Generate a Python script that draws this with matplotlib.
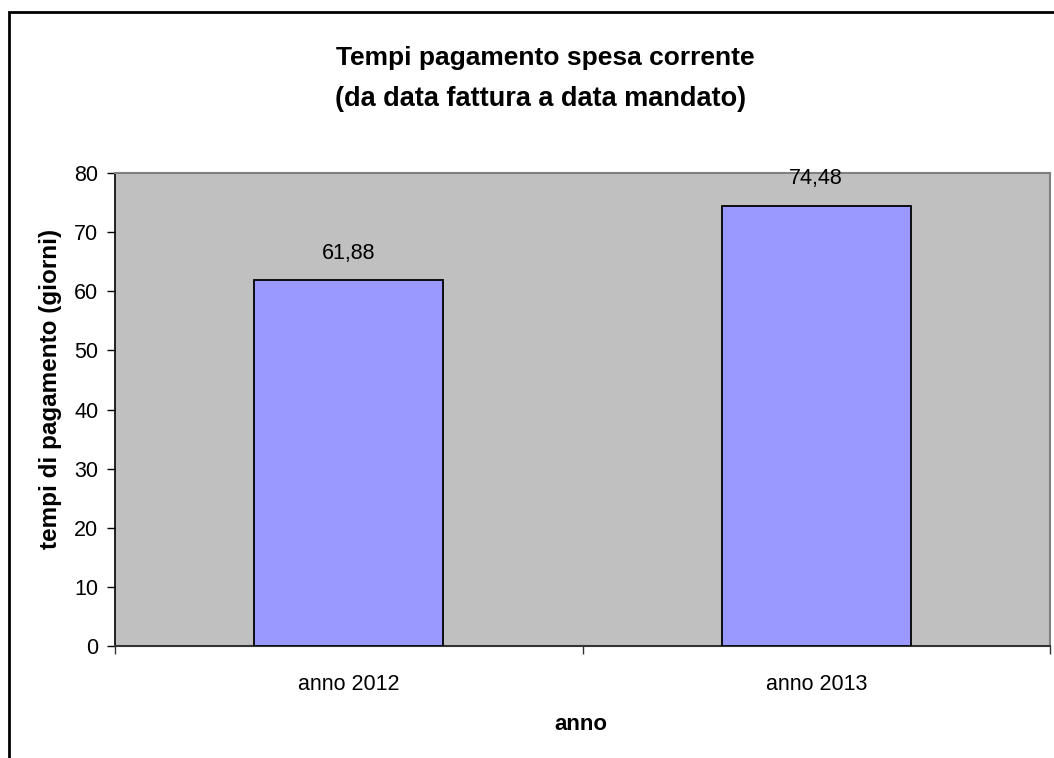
import matplotlib
matplotlib.use("Agg")
import matplotlib.pyplot as plt
from matplotlib.patches import Rectangle

categories = ["anno 2012", "anno 2013"]
values = [61.88, 74.48]
value_labels = ["61,88", "74,48"]
yticks = [0, 10, 20, 30, 40, 50, 60, 70, 80]

plt.rcParams['font.family'] = ['Liberation Sans', 'DejaVu Sans']

W, H = 1054, 758
fig = plt.figure(figsize=(W / 100, H / 100), dpi=100)
ax = fig.add_axes([115 / W, 1 - 646 / H, (1050 - 115) / W, (646 - 173) / H])
ax.set_facecolor('#C0C0C0')

x = list(range(len(categories)))
ax.bar(x, values, width=0.405, color='#9999FF', edgecolor='black', linewidth=1.3, zorder=3)
for xi, v, lab in zip(x, values, value_labels):
    ax.text(xi, v + 2.8, lab, ha='center', va='bottom', fontsize=15.5, color='black')

ax.set_xlim(-0.5, len(categories) - 0.5)
ax.set_ylim(0, 80)
ax.set_yticks(yticks)
ax.set_yticklabels([str(t) for t in yticks], fontsize=15.5)
ax.tick_params(axis='y', direction='out', length=6, width=1, color='black', pad=6)
ax.set_xticks(x)
ax.set_xticklabels(categories, fontsize=15.5)
ax.tick_params(axis='x', which='major', length=0, pad=20)
ax.set_xticks([-0.5, 0.5, 1.5], minor=True)
ax.tick_params(axis='x', which='minor', direction='out', length=6, width=1, color='#333333')

ax.spines['left'].set_color('black')
ax.spines['left'].set_linewidth(1.2)
ax.spines['bottom'].set_color('#333333')
ax.spines['bottom'].set_linewidth(1.5)
ax.spines['top'].set_color('#808080')
ax.spines['top'].set_linewidth(1.5)
ax.spines['right'].set_color('#808080')
ax.spines['right'].set_linewidth(1.5)

fig.text(545 / W, 1 - 58 / H, "Tempi pagamento spesa corrente", ha='center', va='center',
         fontsize=19, fontweight='bold')
fig.text(541 / W, 1 - 99 / H, "(da data fattura a data mandato)", ha='center', va='center',
         fontsize=19.5, fontweight='bold')
fig.text(581 / W, 1 - 725 / H, "anno", ha='center', va='center', fontsize=16, fontweight='bold')
fig.text(51 / W, 1 - 389 / H, "tempi di pagamento (giorni)", ha='center', va='center',
         rotation=90, fontsize=17.5, fontweight='bold')

frame = Rectangle((8.5 / W, -0.2), 2.0, 1.2 - 11.5 / H, transform=fig.transFigure,
                  fill=False, edgecolor='black', linewidth=2, clip_on=False)
fig.patches.append(frame)

fig.savefig("out.png", dpi=100)
